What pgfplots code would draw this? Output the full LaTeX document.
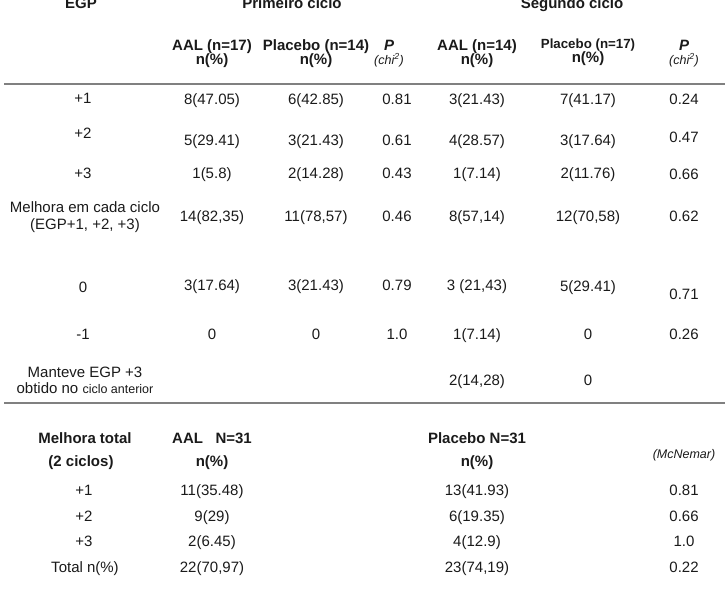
\documentclass[border=0pt]{standalone}
\usepackage{pgfplots}
\pgfplotsset{compat=1.18}
\usepackage{fontspec}
\setmainfont{Liberation Sans}
\definecolor{txt}{HTML}{1A1A1A}
\definecolor{rule}{HTML}{808080}
\newcommand{\T}[3]{\node[anchor=base,inner sep=0pt,text=txt,font=\fontsize{15}{17}\selectfont] at (axis cs:#1,#2) {#3};}
\newcommand{\B}[3]{\node[anchor=base,inner sep=0pt,text=txt,font=\fontsize{15}{17}\selectfont\bfseries] at (axis cs:#1,#2) {#3};}
\begin{document}
\begin{tikzpicture}
\begin{axis}[scale only axis, width=725pt, height=608pt,
  xmin=0, xmax=725, ymin=0, ymax=608, y dir=reverse,
  axis lines=none, clip=false]
% header
\B{81}{8}{EGP}
\B{292}{8}{Primeiro ciclo}
\B{572}{8}{Segundo ciclo}
\B{212}{50}{AAL (n=17)} \B{212}{64.5}{n(\%)}
\B{316}{50}{Placebo (n=14)} \B{316}{64.5}{n(\%)}
\node[anchor=base,inner sep=0pt,text=txt,font=\fontsize{15}{17}\selectfont\bfseries\itshape] at (axis cs:389,50) {P};
\node[anchor=base,inner sep=0pt,text=txt,font=\fontsize{12.5}{14}\selectfont\itshape] at (axis cs:389,64) {(chi\textsuperscript{2})};
\B{477}{50}{AAL (n=14)} \B{477}{64.5}{n(\%)}
\node[anchor=base,inner sep=0pt,text=txt,font=\fontsize{13.3}{15}\selectfont\bfseries] at (axis cs:588,48) {Placebo (n=17)};
\B{588}{62}{n(\%)}
\node[anchor=base,inner sep=0pt,text=txt,font=\fontsize{15}{17}\selectfont\bfseries\itshape] at (axis cs:684,50) {P};
\node[anchor=base,inner sep=0pt,text=txt,font=\fontsize{12.5}{14}\selectfont\itshape] at (axis cs:684,64) {(chi\textsuperscript{2})};
\draw[rule, line width=1.3pt] (axis cs:4,84) -- (axis cs:725,84);
% +1
\T{83}{103}{+1} \T{212}{104}{8(47.05)} \T{316}{104}{6(42.85)} \T{397}{104}{0.81}
\T{477}{104}{3(21.43)} \T{588}{104}{7(41.17)} \T{684}{104}{0.24}
% +2
\T{83}{138}{+2} \T{212}{145}{5(29.41)} \T{316}{145}{3(21.43)} \T{397}{145}{0.61}
\T{477}{145}{4(28.57)} \T{588}{145}{3(17.64)} \T{684}{142}{0.47}
% +3
\T{83}{178}{+3} \T{212}{178}{1(5.8)} \T{316}{178}{2(14.28)} \T{397}{178}{0.43}
\T{477}{178}{1(7.14)} \T{588}{178}{2(11.76)} \T{684}{179}{0.66}
% Melhora
\T{85}{212}{Melhora em cada ciclo} \T{85}{229}{(EGP+1, +2, +3)}
\T{212}{221}{14(82,35)} \T{316}{221}{11(78,57)} \T{397}{221}{0.46}
\T{477}{221}{8(57,14)} \T{588}{221}{12(70,58)} \T{684}{221}{0.62}
% 0
\T{83}{292}{0} \T{212}{290}{3(17.64)} \T{316}{290}{3(21.43)} \T{397}{290}{0.79}
\T{477}{290}{3 (21,43)} \T{588}{291}{5(29.41)} \T{684}{299}{0.71}
% -1
\T{83}{339}{-1} \T{212}{339}{0} \T{316}{339}{0} \T{397}{339}{1.0}
\T{477}{339}{1(7.14)} \T{588}{339}{0} \T{684}{339}{0.26}
% Manteve
\T{85}{377}{Manteve EGP +3}
\T{85}{393}{obtido no {\fontsize{12.5}{14}\selectfont ciclo anterior}}
\T{477}{385}{2(14,28)} \T{588}{385}{0}
\draw[rule, line width=1.3pt] (axis cs:4,403) -- (axis cs:725,403);
% bottom section
\B{85}{443}{Melhora total} \B{81}{466}{(2 ciclos)}
\B{212}{443}{AAL\ \ \ N=31} \B{212}{466}{n(\%)}
\B{477}{443}{Placebo N=31} \B{477}{466}{n(\%)}
\node[anchor=base,inner sep=0pt,text=txt,font=\fontsize{12.5}{14}\selectfont\itshape] at (axis cs:684,458) {(McNemar)};
\T{84}{495}{+1} \T{212}{495}{11(35.48)} \T{477}{495}{13(41.93)} \T{684}{495}{0.81}
\T{84}{521}{+2} \T{212}{521}{9(29)} \T{477}{521}{6(19.35)} \T{684}{521}{0.66}
\T{84}{546}{+3} \T{212}{546}{2(6.45)} \T{477}{546}{4(12.9)} \T{684}{546}{1.0}
\T{85}{572}{Total n(\%)} \T{212}{572}{22(70,97)} \T{477}{572}{23(74,19)} \T{684}{572}{0.22}
\end{axis}
\pgfresetboundingbox
\path[use as bounding box] (0,0) rectangle (725pt,608pt);
\end{tikzpicture}
\end{document}
